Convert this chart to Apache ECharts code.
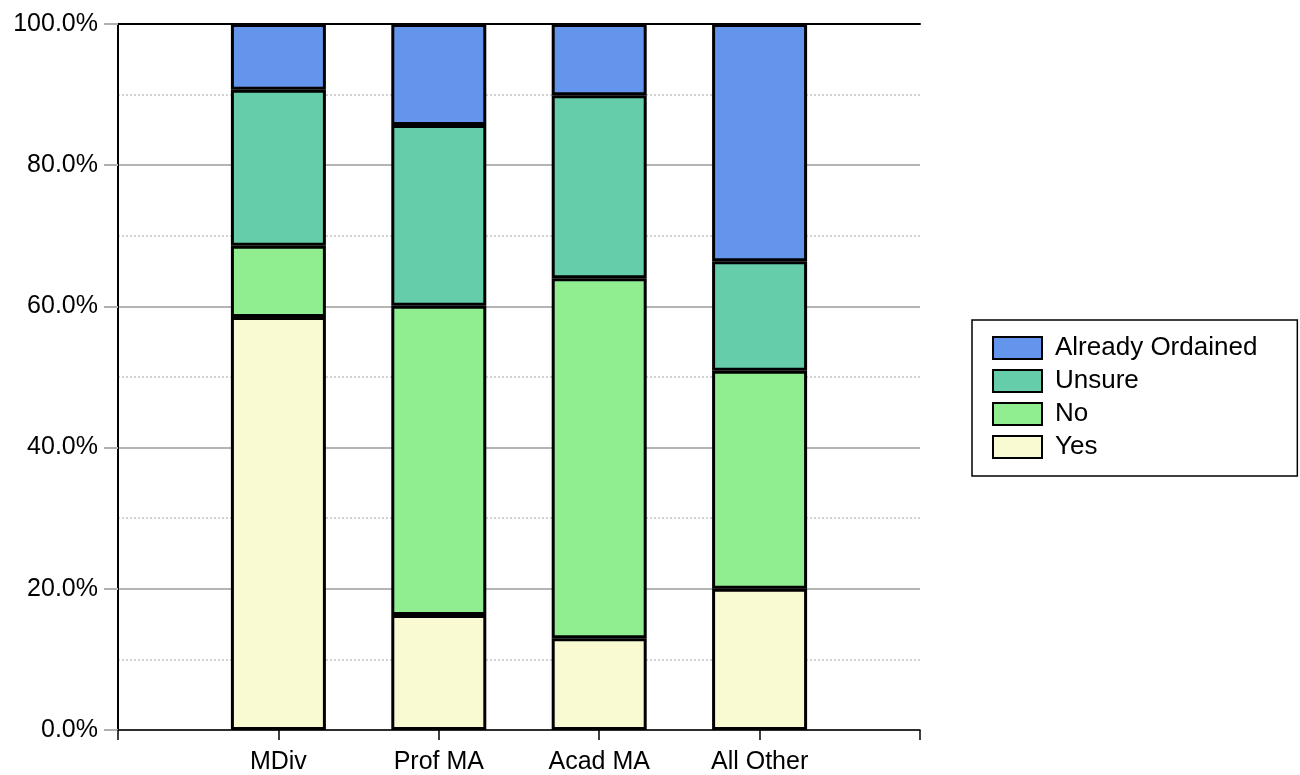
<!DOCTYPE html>
<html>
<head>
<meta charset="utf-8">
<script src="https://cdn.jsdelivr.net/npm/echarts@6/dist/echarts.min.js"></script>
<style>
html,body{margin:0;padding:0;background:#fff;}
#chart{width:1300px;height:775px;}
</style>
</head>
<body>
<div id="chart"></div>
<script>
// blank slots at both ends keep the bars where the original axis put them
var categories = ['', 'MDiv', 'Prof MA', 'Acad MA', 'All Other', ''];
var yesVals     = [null, 58.5, 16.3, 13.0, 20.0, null];
var noVals      = [null, 10.1, 43.8, 51.0, 30.9, null];
var unsureVals  = [null, 22.1, 25.6, 25.9, 15.5, null];
var ordainedVals= [null,  9.3, 14.3, 10.1, 33.6, null];
var yTicks = [0, 20, 40, 60, 80, 100];

var font = 'Liberation Sans, Arial, sans-serif';
var chart = echarts.init(document.getElementById('chart'));

function bar(name, data, color) {
    return {
        name: name, type: 'bar', stack: 'all', data: data,
        barWidth: 95,
        itemStyle: {color: color, borderColor: '#000', borderWidth: 3},
        emphasis: {disabled: true}
    };
}

chart.setOption({
    animation: false,
    grid: {left: 118, right: 380, top: 24, bottom: 45},
    legend: {
        orient: 'vertical', left: 972, top: 320,
        data: ['Already Ordained', 'Unsure', 'No', 'Yes'],
        icon: 'rect',
        itemWidth: 49, itemHeight: 22, itemGap: 7,
        padding: [15, 40, 16, 20],
        borderColor: '#000', borderWidth: 1.5,
        textStyle: {fontFamily: font, fontSize: 26, lineHeight: 22, color: '#000', padding: [0, 0, 0, 8]}
    },
    xAxis: [{
        type: 'category', data: categories, boundaryGap: false,
        axisLine: {lineStyle: {color: '#000', width: 1.5}},
        axisTick: {show: true, length: 10, lineStyle: {color: '#000', width: 1.5}},
        axisLabel: {fontFamily: font, fontSize: 25, color: '#000', margin: 20, interval: 0},
        splitLine: {show: false}
    }, {
        type: 'category', data: categories, boundaryGap: false, position: 'top',
        axisLine: {show: true, lineStyle: {color: '#000', width: 2}},
        axisTick: {show: false}, axisLabel: {show: false}
    }],
    yAxis: {
        type: 'value', min: yTicks[0], max: yTicks[yTicks.length - 1], interval: 20,
        axisLine: {show: true, lineStyle: {color: '#000', width: 2}},
        axisTick: {show: true, length: 14, lineStyle: {color: '#b0b0b0', width: 2}},
        axisLabel: {fontFamily: font, fontSize: 25, color: '#000', margin: 20,
            formatter: function (v) { return v.toFixed(1) + '%'; }},
        splitLine: {lineStyle: {color: '#b4b4b4', width: 2}},
        minorTick: {show: false, splitNumber: 2},
        minorSplitLine: {show: true, lineStyle: {color: '#c4c4c4', width: 1.5, type: [2, 2]}}
    },
    series: [
        bar('Yes', yesVals, '#FAFAD2'),
        bar('No', noVals, '#90EE90'),
        bar('Unsure', unsureVals, '#66CDAA'),
        bar('Already Ordained', ordainedVals, '#6495ED')
    ]
});
</script>
</body>
</html>
